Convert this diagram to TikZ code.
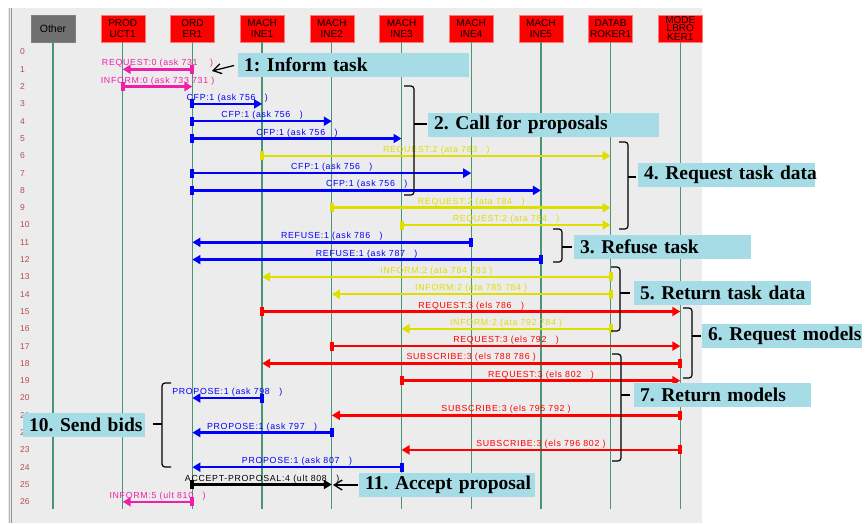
\documentclass[tikz,border=0pt]{standalone}
\usepackage{fontspec}
\setmainfont{Liberation Serif}
\setsansfont{Liberation Sans}
\newfontfamily\msgfont[LetterSpace=8]{Liberation Sans}
\usepackage{tikz}
\usetikzlibrary{arrows.meta}
\usetikzlibrary{positioning, calc}
\definecolor{panelgrey}{RGB}{236,236,236}
\definecolor{lifegreen}{RGB}{72,150,118}
\definecolor{rowred}{RGB}{185,75,75}
\definecolor{msgpink}{RGB}{240,30,170}
\definecolor{msgyellow}{RGB}{222,222,0}
\definecolor{notecyan}{RGB}{166,220,230}
\definecolor{boxedge}{RGB}{255,120,120}
\definecolor{idlegrey}{RGB}{112,112,112}
\tikzset{
    agent/.style = {inner sep=0pt, text centered, align=center,
        minimum width=44pt, minimum height=27pt, font=\sffamily\fontsize{10}{11.5}\selectfont},
    busy/.style = {agent, fill=red, draw=boxedge},
    idle/.style = {agent, fill=idlegrey, draw=gray, font=\sffamily\fontsize{10.5}{11.5}\selectfont},
    lifeline/.style = {draw=lifegreen, line width=1.3pt},
    rownum/.style = {anchor=west, inner sep=0pt, text=rowred,
        font=\sffamily\fontsize{8.5}{9}\selectfont},
    msg/.style = {line width=2.5pt, shorten <=-2pt,
        {Rectangle[length=4pt,width=9pt]}-{Triangle[length=8pt,width=9pt]}},
    lbl/.style = {anchor=base, yshift=3.5pt, inner sep=0pt,
        font=\msgfont\fontsize{8.8}{9}\selectfont},
    tasknote/.style = {anchor=west, fill=notecyan, text width=#1, align=left,
        inner xsep=6pt, inner ysep=0pt, minimum height=24pt,
        execute at begin node={\hbox\bgroup}, execute at end node={\egroup},
        font=\bfseries\fontsize{19.5}{20}\selectfont\frenchspacing},
    grp/.style = {line width=1.2pt, rounded corners=3pt},
    pointer/.style = {-{Straight Barb[length=8pt,width=10pt]}, line width=1.3pt},
}

\begin{document}
\begin{tikzpicture}[x=1pt, y=-1pt, node distance=25.3pt]
        \useasboundingbox (0,0) rectangle (867,523);
        \fill[panelgrey] (8,8) rectangle (702,523);
        \draw[gray!60, line width=1pt] (9.5,8) -- (9.5,523);
        \draw[gray!85, line width=1pt] (11.5,8) -- (11.5,523);

        \node [idle] (other) at (53,28.5) {Other};
        \node [busy, right=of other] (product) {PROD\\UCT1};
        \node [busy, right=of product] (order) {ORD\\ER1};
        \node [busy, right=of order] (mach1) {MACH\\INE1};
        \node [busy, right=of mach1] (mach2) {MACH\\INE2};
        \node [busy, right=of mach2] (mach3) {MACH\\INE3};
        \node [busy, right=of mach3] (mach4) {MACH\\INE4};
        \node [busy, right=of mach4] (mach5) {MACH\\INE5};
        \node [busy, right=of mach5] (datab) {DATAB\\ROKER1};
        \node [busy, right=of datab, font=\sffamily\fontsize{10}{8.5}\selectfont] (modelb) {MODE\\LBRO\\KER1};

        \coordinate (lineend) at (0,509);
        \foreach \a in {other, product, order, mach1, mach2, mach3, mach4, mach5, datab, modelb}
            \draw [lifeline] (\a.south) -- (\a |- lineend);

        \foreach \i in {0,...,26}
            \node [rownum] (r\i) at (20, {52+17.3*\i}) {\i};

        \draw [msg, msgpink] (order |- r1) -- node [lbl] {REQUEST:0 (ask 731~~~~)} (product |- r1);
        \draw [msg, msgpink] (product |- r2) -- node [lbl] {INFORM:0 (ask 733 731 )} (order |- r2);
        \draw [msg, blue] (order |- r3) -- node [lbl] {CFP:1 (ask 756~~~)} (mach1 |- r3);
        \draw [msg, blue] (order |- r4) -- node [lbl] {CFP:1 (ask 756~~~)} (mach2 |- r4);
        \draw [msg, blue] (order |- r5) -- node [lbl] {CFP:1 (ask 756~~~)} (mach3 |- r5);
        \draw [msg, msgyellow] (mach1 |- r6) -- node [lbl] {REQUEST:2 (ata 783~~~)} (datab |- r6);
        \draw [msg, blue] (order |- r7) -- node [lbl] {CFP:1 (ask 756~~~)} (mach4 |- r7);
        \draw [msg, blue] (order |- r8) -- node [lbl] {CFP:1 (ask 756~~~)} (mach5 |- r8);
        \draw [msg, msgyellow] (mach2 |- r9) -- node [lbl] {REQUEST:2 (ata 784~~~)} (datab |- r9);
        \draw [msg, msgyellow] (mach3 |- r10) -- node [lbl] {REQUEST:2 (ata 784~~~)} (datab |- r10);
        \draw [msg, blue] (mach4 |- r11) -- node [lbl] {REFUSE:1 (ask 786~~~)} (order |- r11);
        \draw [msg, blue] (mach5 |- r12) -- node [lbl] {REFUSE:1 (ask 787~~~)} (order |- r12);
        \draw [msg, msgyellow] (datab |- r13) -- node [lbl] {INFORM:2 (ata 784 783 )} (mach1 |- r13);
        \draw [msg, msgyellow] (datab |- r14) -- node [lbl] {INFORM:2 (ata 785 784 )} (mach2 |- r14);
        \draw [msg, red] (mach1 |- r15) -- node [lbl] {REQUEST:3 (els 786~~~)} (modelb |- r15);
        \draw [msg, msgyellow] (datab |- r16) -- node [lbl] {INFORM:2 (ata 792 784 )} (mach3 |- r16);
        \draw [msg, red] (mach2 |- r17) -- node [lbl] {REQUEST:3 (els 792~~~)} (modelb |- r17);
        \draw [msg, red] (modelb |- r18) -- node [lbl] {SUBSCRIBE:3 (els 788 786 )} (mach1 |- r18);
        \draw [msg, red] (mach3 |- r19) -- node [lbl] {REQUEST:3 (els 802~~~)} (modelb |- r19);
        \draw [msg, blue] (mach1 |- r20) -- node [lbl] {PROPOSE:1 (ask 798~~~)} (order |- r20);
        \draw [msg, red] (modelb |- r21) -- node [lbl] {SUBSCRIBE:3 (els 795 792 )} (mach2 |- r21);
        \draw [msg, blue] (mach2 |- r22) -- node [lbl] {PROPOSE:1 (ask 797~~~)} (order |- r22);
        \draw [msg, red] (modelb |- r23) -- node [lbl] {SUBSCRIBE:3 (els 796 802 )} (mach3 |- r23);
        \draw [msg, blue] (mach3 |- r24) -- node [lbl] {PROPOSE:1 (ask 807~~~)} (order |- r24);
        \draw [msg, black] (order |- r25) -- node [lbl] {ACCEPT-PROPOSAL:4 (ult 808~~~)} (mach2 |- r25);
        \draw [msg, msgpink] (order |- r26) -- node [lbl] {INFORM:5 (ult 810~~~)} (product |- r26);

        \node [tasknote=219pt] (inform) at (238,64.5) {1: Inform task};
        \node [tasknote=219pt] (cfp) at (428,124.5) {2. Call for proposals};
        \node [tasknote=165pt] (reqdata) at (638,175) {4. Request task data};
        \node [tasknote=165pt] (refuse) at (574,246.5) {3. Refuse task};
        \node [tasknote=165pt] (retdata) at (634,293) {5. Return task data};
        \node [tasknote=148pt] (reqmodels) at (702,336) {6. Request models};
        \node [tasknote=165pt] (retmodels) at (634,394.5) {7. Return models};
        \node [tasknote=110pt] (bids) at (23,425) {10. Send bids};
        \node [tasknote=164pt] (accept) at (359,485) {11. Accept proposal};

        \draw [grp] (404,86) -| (414,195) -- (404,195);
        \draw [grp] (414,124) -- (427,124);
        \draw [grp] (619,142) -| (628,229) -- (619,229);
        \draw [grp] (628,177) -- (636,177);
        \draw [grp] (553,229) -| (562,262) -- (553,262);
        \draw [grp] (562,247) -- (572,247);
        \draw [grp] (611,267) -| (620,331) -- (611,331);
        \draw [grp] (620,293) -- (630,293);
        \draw [grp] (683,308) -| (692,378) -- (683,378);
        \draw [grp] (692,336) -- (701,336);
        \draw [grp] (612,354) -| (621,461) -- (612,461);
        \draw [grp] (621,395) -- (630,395);
        \draw [grp] (171,383) -| (162,467) -- (171,467);
        \draw [grp] (162,424) -- (153,424);

        \coordinate (infotip) at (212,71);
        \coordinate (accepttip) at (333,485);
        \draw [pointer, shorten <=4pt] (inform.west) -- (infotip);
        \draw [pointer, shorten <=1pt] (accept.west) -- (accepttip);
\end{tikzpicture}
\end{document}
